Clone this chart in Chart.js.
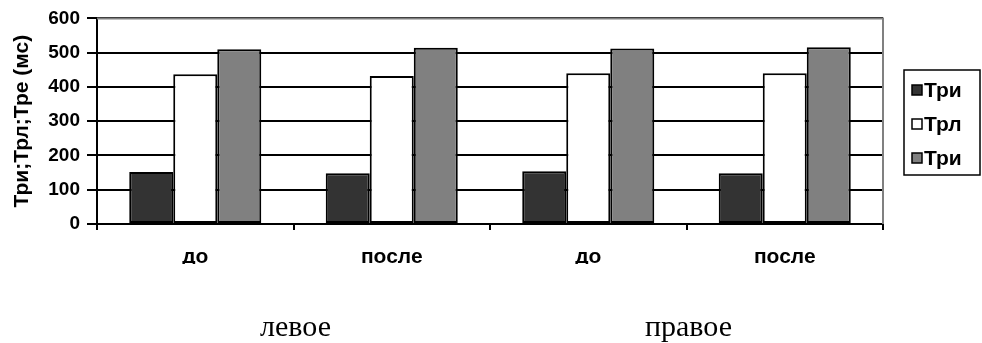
<!DOCTYPE html>
<html>
<head>
<meta charset="utf-8">
<script src="https://cdn.jsdelivr.net/npm/chart.js@4/dist/chart.umd.min.js"></script>
<style>
  html, body { margin: 0; padding: 0; background: #fff; }
  canvas { display: block; }
</style>
</head>
<body>
<canvas id="chart" width="982" height="343"></canvas>
<script>
// Data
const categories = ['до', 'после', 'до', 'после'];
const sides = ['левое', 'правое'];
const seriesNames = ['Три', 'Трл', 'Три'];
const triValues = [152, 148, 154, 148];
const trlValues = [437, 432, 440, 440];
const treValues = [510, 514, 512, 516];
const yMax = 600;
const yStep = 100;

const colors = ['#333333', '#ffffff', '#808080'];
const sans = '"Liberation Sans", Arial, sans-serif';

// Gray frame on top and right of plot area
const frame = {
  id: 'frame',
  afterDatasetsDraw(chart) {
    const a = chart.chartArea, ctx = chart.ctx;
    ctx.save();
    ctx.strokeStyle = '#808080';
    ctx.lineWidth = 2;
    ctx.beginPath();
    ctx.moveTo(a.left, a.top);
    ctx.lineTo(a.right, a.top);
    ctx.lineTo(a.right, a.bottom);
    ctx.stroke();
    ctx.restore();
  }
};

// Boxed legend on the right
const boxLegend = {
  id: 'boxLegend',
  afterDraw(chart) {
    const ctx = chart.ctx;
    ctx.save();
    ctx.strokeStyle = '#000';
    ctx.lineWidth = 1.5;
    ctx.strokeRect(904, 70, 76, 105);
    ctx.font = 'bold 21px ' + sans;
    ctx.textBaseline = 'middle';
    chart.data.datasets.forEach((ds, i) => {
      const y = 90 + i * 34;
      ctx.fillStyle = ds.backgroundColor;
      ctx.fillRect(912, y - 5, 10, 10);
      ctx.lineWidth = 1.5;
      ctx.strokeRect(912, y - 5, 10, 10);
      ctx.fillStyle = '#000';
      ctx.fillText(ds.label, 924, y + 1);
    });
    ctx.restore();
  }
};

// Side captions under the chart
const sideLabels = {
  id: 'sideLabels',
  afterDraw(chart) {
    const ctx = chart.ctx, x = chart.scales.x;
    ctx.save();
    ctx.font = '30px "Liberation Serif", "Times New Roman", serif';
    ctx.fillStyle = '#000';
    ctx.textAlign = 'center';
    ctx.textBaseline = 'alphabetic';
    sides.forEach((s, i) => ctx.fillText(s, x.getPixelForValue(i * 2 + 0.5) + 2, 336));
    ctx.restore();
  }
};

const datasets = [triValues, trlValues, treValues].map((vals, i) => ({
  label: seriesNames[i],
  data: vals,
  backgroundColor: colors[i],
  borderColor: '#000',
  borderWidth: 2,
  borderSkipped: false,
  barPercentage: 1,
  categoryPercentage: 0.672
}));

new Chart(document.getElementById('chart'), {
  type: 'bar',
  data: { labels: categories, datasets: datasets },
  options: {
    responsive: false,
    animation: false,
    layout: { padding: { left: 10, right: 99, top: 18, bottom: 79 } },
    plugins: {
      legend: { display: false },
      tooltip: { enabled: false }
    },
    scales: {
      x: {
        grid: {
          display: true,
          drawOnChartArea: false,
          color: '#000',
          lineWidth: 2,
          tickLength: 6
        },
        border: { color: '#000', width: 2 },
        ticks: {
          color: '#000',
          padding: 15,
          font: { family: sans, size: 21, weight: 'bold' }
        },
        afterFit(scale) { scale.height = 40; }
      },
      y: {
        min: 0,
        max: yMax,
        grid: {
          color: '#000',
          lineWidth: 2,
          tickLength: 10
        },
        border: { color: '#000', width: 2 },
        ticks: {
          stepSize: yStep,
          color: '#000',
          padding: 7,
          font: { family: sans, size: 19, weight: 'bold' }
        },
        title: {
          display: true,
          text: 'Три;Трл;Тре (мс)',
          color: '#000',
          padding: { top: 0, bottom: 0 },
          font: { family: sans, size: 21, weight: 'bold' }
        },
        afterFit(scale) { scale.width = 87; }
      }
    }
  },
  plugins: [frame, boxLegend, sideLabels]
});
</script>
</body>
</html>
